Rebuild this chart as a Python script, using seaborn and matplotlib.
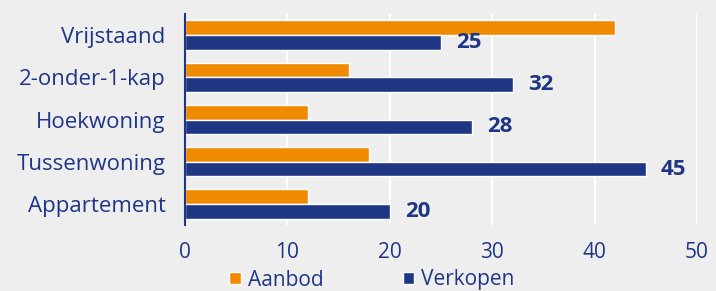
import matplotlib
matplotlib.use("Agg")
import matplotlib.pyplot as plt
import seaborn as sns
import pandas as pd
from matplotlib.patches import Patch

categories = ["Vrijstaand", "2-onder-1-kap", "Hoekwoning", "Tussenwoning", "Appartement"]
aanbod = [42, 16, 12, 18, 12]
verkopen = [25, 32, 28, 45, 20]
series = ["Aanbod", "Verkopen"]
xticks = [0, 10, 20, 30, 40, 50]

ORANGE = "#F08A00"
NAVY = "#1F3685"
BG = "#EEEEEE"

sns.set_theme(style="white")
plt.rcParams['font.family'] = ['Open Sans', 'DejaVu Sans']

df = pd.DataFrame({
    "cat": categories * 2,
    "val": aanbod + verkopen,
    "serie": [series[0]] * len(categories) + [series[1]] * len(categories),
})

fig = plt.figure(figsize=(7.16, 2.91), dpi=100, facecolor=BG)
ax = fig.add_axes([185 / 716, 1 - 225 / 291, (697 - 185) / 716, (225 - 14) / 291])
ax.set_facecolor(BG)

sns.barplot(data=df, y="cat", x="val", hue="serie", orient="h",
            palette=[ORANGE, NAVY], width=0.7, ax=ax, saturation=1,
            order=categories, hue_order=series, legend=False)

ax.set_xlim(0, 50)
ax.set_xticks(xticks)
ax.grid(axis="x", color="white", linewidth=1.5)
ax.set_axisbelow(True)
for s in ["top", "right", "bottom"]:
    ax.spines[s].set_visible(False)
ax.spines["left"].set_color(NAVY)
ax.spines["left"].set_linewidth(1.5)
ax.tick_params(axis="both", length=0, colors=NAVY, labelsize=15)
ax.tick_params(axis="x", pad=12)
ax.tick_params(axis="y", pad=14, labelsize=16)
ax.set_xlabel("")
ax.set_ylabel("")

verk_container = ax.containers[1]
ax.bar_label(verk_container, labels=[str(v) for v in verkopen], padding=11,
             color=NAVY, fontsize=16, fontweight="bold")

handles = [Patch(facecolor=ORANGE, label=series[0]), Patch(facecolor=NAVY, label=series[1])]
fig.legend(handles=handles, loc="center", bbox_to_anchor=(372 / 716, 1 - 280 / 291),
           ncol=2, frameon=False, fontsize=15, handlelength=0.55, handleheight=0.55,
           handletextpad=0.35, columnspacing=3.8, labelcolor=NAVY)

fig.savefig("out.png", dpi=100, facecolor=BG)
